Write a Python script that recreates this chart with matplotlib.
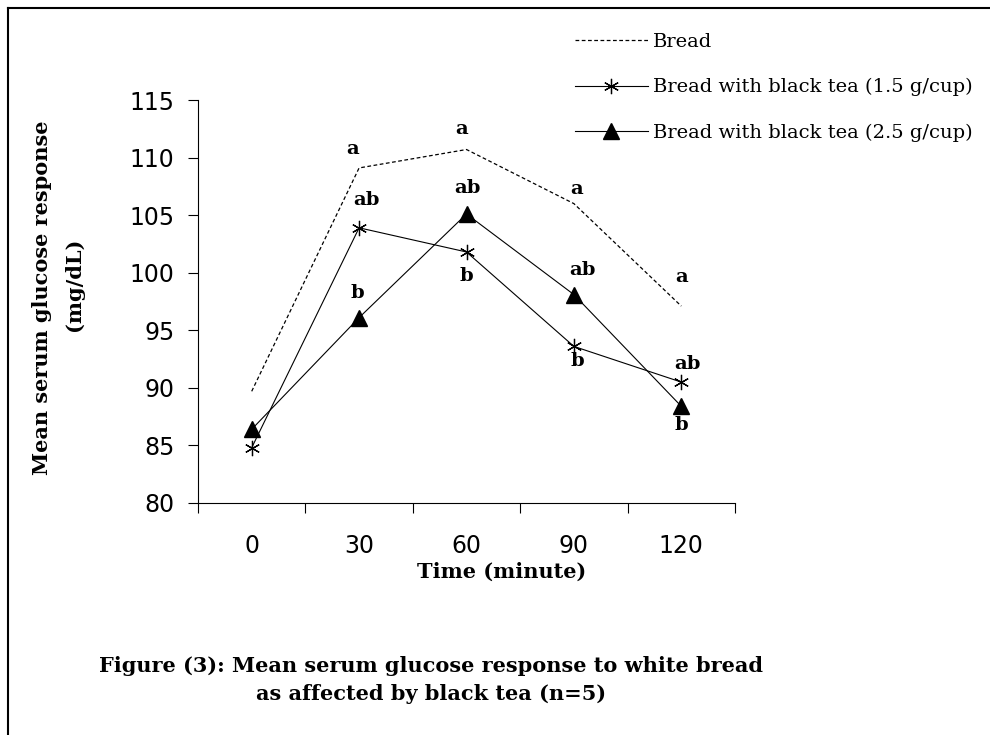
import numpy as np
import matplotlib
matplotlib.use("Agg")
import matplotlib.pyplot as plt
from matplotlib.lines import Line2D

# data
times = ["0", "30", "60", "90", "120"]
bread = [89.7, 109.1, 110.7, 106.0, 97.1]
tea_15 = [84.8, 103.9, 101.8, 93.6, 90.5]
tea_25 = [86.4, 96.1, 105.1, 98.1, 88.4]

# significance letters (label, y position, x shift in px)
letters_bread = ["", "a", "a", "a", "a"]
letters_bread_y = [None, 110.75, 112.45, 107.3, 99.6]
letters_bread_dx = [0, -6, -5, 3, 0]
letters_15 = ["", "ab", "b", "b", "ab"]
letters_15_y = [None, 106.3, 99.7, 92.3, 92.1]
letters_15_dx = [0, 7, 0, 3, 6]
letters_25 = ["", "b", "ab", "ab", "b"]
letters_25_y = [None, 98.2, 107.4, 100.2, 86.8]
letters_25_dx = [0, -2, 1, 9, 0]

W, H = 990, 735
fig = plt.figure(figsize=(W / 100, H / 100), dpi=100, facecolor="white")
ax = fig.add_axes([198 / W, 1 - 503 / H, (735 - 198) / W, (503 - 100) / H])

x = np.arange(len(times))
ax.plot(x, bread, color="black", lw=0.9, ls=(0, (3, 2)), label="Bread")
ax.plot(x, tea_15, color="black", lw=0.8, marker=(6, 2, 0), ms=11, mew=0.9,
        label="Bread with black tea (1.5 g/cup)")
ax.plot(x, tea_25, color="black", lw=0.8, marker="^", ms=12,
        label="Bread with black tea (2.5 g/cup)")

px = 1.0 / 107.3  # one pixel in category units
for labs, ys, dxs in [(letters_bread, letters_bread_y, letters_bread_dx),
                      (letters_15, letters_15_y, letters_15_dx),
                      (letters_25, letters_25_y, letters_25_dx)]:
    for i, (t, yy, d) in enumerate(zip(labs, ys, dxs)):
        if t:
            ax.text(i + d * px, yy, t, ha="center", va="center",
                    fontsize=14, fontweight="bold", family="DejaVu Serif")

ax.set_xlim(-0.5, 4.5)
ax.set_ylim(80, 115)
ax.set_yticks(np.arange(80, 116, 5))
ax.set_xticks(x)
ax.set_xticklabels(times)
ax.set_xticks(np.arange(-0.5, 5, 1), minor=True)
ax.tick_params(axis="x", which="major", length=0, pad=22, labelsize=17)
ax.tick_params(axis="x", which="minor", length=7, width=0.8, direction="out")
ax.tick_params(axis="y", length=7, width=0.8, direction="out", pad=10, labelsize=17)
for lab in ax.get_xticklabels() + ax.get_yticklabels():
    lab.set_family("DejaVu Sans")

for s in ("top", "right"):
    ax.spines[s].set_visible(False)
for s in ("left", "bottom"):
    ax.spines[s].set_linewidth(0.8)

leg = ax.legend(loc="upper left", bbox_to_anchor=(575 / W, 1 - 33 / H),
                bbox_transform=fig.transFigure, frameon=False,
                prop={"family": "DejaVu Serif", "size": 14},
                handlelength=3.75, handletextpad=0.27, labelspacing=1.4,
                borderpad=0, borderaxespad=0)

serif_bold = dict(family="DejaVu Serif", fontweight="bold")
fig.text(502 / W, 1 - 572 / H, "Time (minute)", ha="center", va="center",
         fontsize=15, **serif_bold)
fig.text(42 / W, 1 - 298 / H, "Mean serum glucose response", rotation=90,
         ha="center", va="center", fontsize=15, **serif_bold)
fig.text(74 / W, 1 - 284 / H, "(mg/dL)", rotation=90,
         ha="center", va="center", fontsize=15, **serif_bold)
fig.text(431 / W, 1 - 680 / H,
         "Figure (3): Mean serum glucose response to white bread\n"
         "as affected by black tea (n=5)",
         ha="center", va="center", multialignment="center", fontsize=15,
         linespacing=1.5, **serif_bold)

# page border (left and top only, as in the scan)
fig.add_artist(Line2D([8 / W, 8 / W], [0, 1 - 8 / H], color="black", lw=1.5))
fig.add_artist(Line2D([8 / W, 1], [1 - 8 / H, 1 - 8 / H], color="black", lw=1.5))

fig.savefig("out.png", dpi=100)
